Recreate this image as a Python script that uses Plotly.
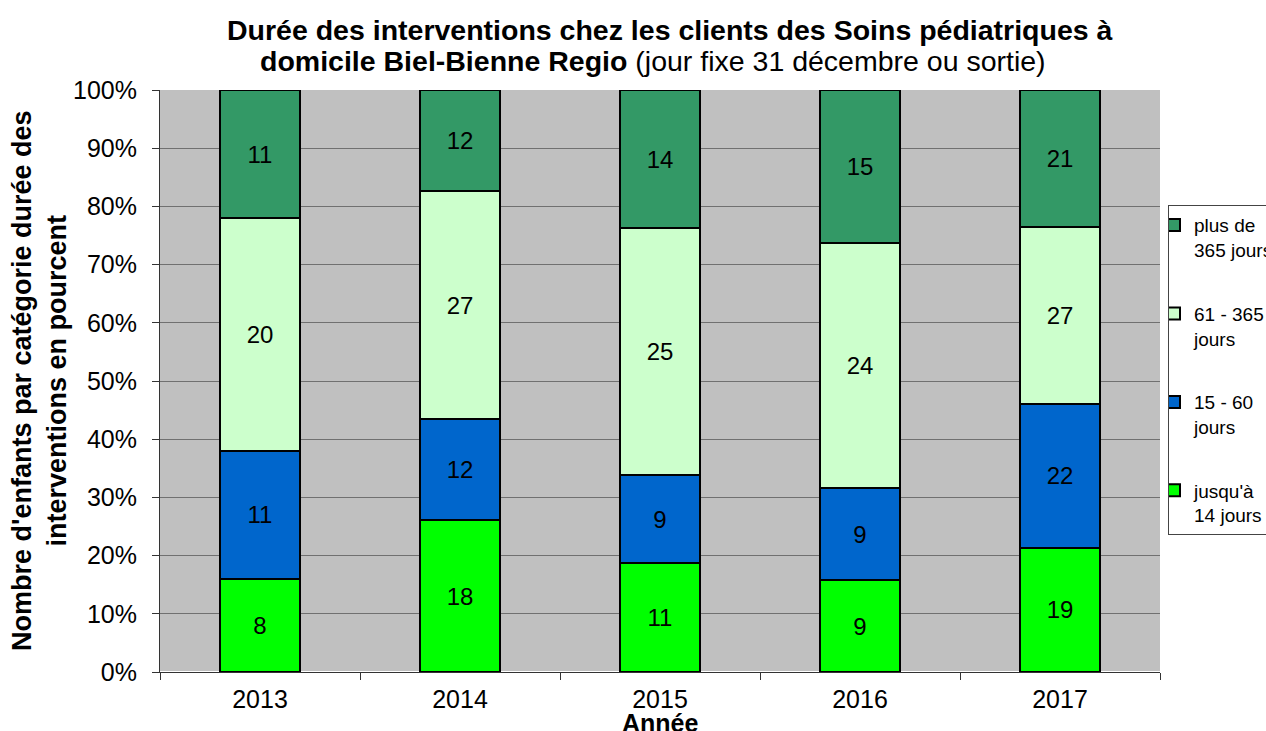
import plotly.graph_objects as go

years = ["2013", "2014", "2015", "2016", "2017"]
series_names = ["jusqu'à<br>14 jours", "15 - 60<br>jours", "61 - 365<br>jours", "plus de<br>365 jours"]
v_14 = [8, 18, 11, 9, 19]
v_60 = [11, 12, 9, 9, 22]
v_365 = [20, 27, 25, 24, 27]
v_more = [11, 12, 14, 15, 21]
colors = ["#00FF00", "#0066CC", "#CCFFCC", "#339966"]
y_ticks = [0, 10, 20, 30, 40, 50, 60, 70, 80, 90, 100]

fig = go.Figure()
for i, (name, vals) in enumerate(zip(series_names, [v_14, v_60, v_365, v_more])):
    fig.add_trace(go.Bar(
        x=years, y=vals, name=name, text=[str(v) for v in vals],
        texttemplate="%{text}", textposition="inside", insidetextanchor="middle",
        textangle=0, textfont=dict(size=24, color="black", family="Arial"),
        marker=dict(color=colors[i], line=dict(color="black", width=2)),
        width=0.4, legendgroup=f"g{4 - i}", legendrank=4 - i, hoverinfo="skip",
    ))

fig.update_layout(
    barmode="stack", barnorm="percent",
    width=1266, height=731,
    margin=dict(l=160, r=106, t=90, b=59, autoexpand=False),
    paper_bgcolor="white", plot_bgcolor="#C0C0C0",
    font=dict(family="Arial", color="black"),
    legend=dict(
        x=1.008, xanchor="left", y=0.802, yanchor="top",
        traceorder="grouped", tracegroupgap=36, indentation=-15, valign="top",
        bordercolor="#444444", borderwidth=1, bgcolor="white",
        font=dict(size=19, family="Arial", color="black"),
        itemwidth=30,
    ),
    xaxis=dict(
        type="category", tickson="boundaries", ticks="outside", ticklen=7,
        tickcolor="#333333", showline=True, linecolor="#333333", linewidth=1,
        tickfont=dict(size=25, family="Arial"), showgrid=False, ticklabelstandoff=5,
    ),
    yaxis=dict(
        range=[0, 100], tickvals=y_ticks, ticktext=[f"{t}%" for t in y_ticks],
        ticks="outside", ticklen=7, tickcolor="#333333",
        showline=True, linecolor="#333333", linewidth=1,
        gridcolor="#707070", gridwidth=1,
        tickfont=dict(size=25, family="Arial"), ticklabelstandoff=10,
    ),
)
fig.add_annotation(text="<b>Durée des interventions chez les clients des Soins pédiatriques à</b>",
                   xref="paper", yref="paper", x=0.51, y=(672 - 30) / 582, yanchor="middle",
                   showarrow=False, font=dict(size=28.5, family="Arial"))
fig.add_annotation(text="<b>domicile Biel-Bienne Regio</b> (jour fixe 31 décembre ou sortie)",
                   xref="paper", yref="paper", x=0.493, y=(672 - 61) / 582, yanchor="middle",
                   showarrow=False, font=dict(size=28.5, family="Arial"))
fig.add_annotation(text="<b>Nombre d'enfants par catégorie durée des<br>interventions en pourcent</b>",
                   xref="paper", yref="paper", x=(39 - 160) / 1000, y=0.5, textangle=-90,
                   xanchor="center", yanchor="middle", showarrow=False,
                   font=dict(size=27, family="Arial"))
fig.add_annotation(text="<b>Année</b>", xref="paper", yref="paper", x=0.5, y=(672 - 723) / 582,
                   yanchor="middle", showarrow=False, font=dict(size=25, family="Arial"))
fig.write_html("out.html", post_script="document.body.style.margin='0';",
               config={"displayModeBar": False})
